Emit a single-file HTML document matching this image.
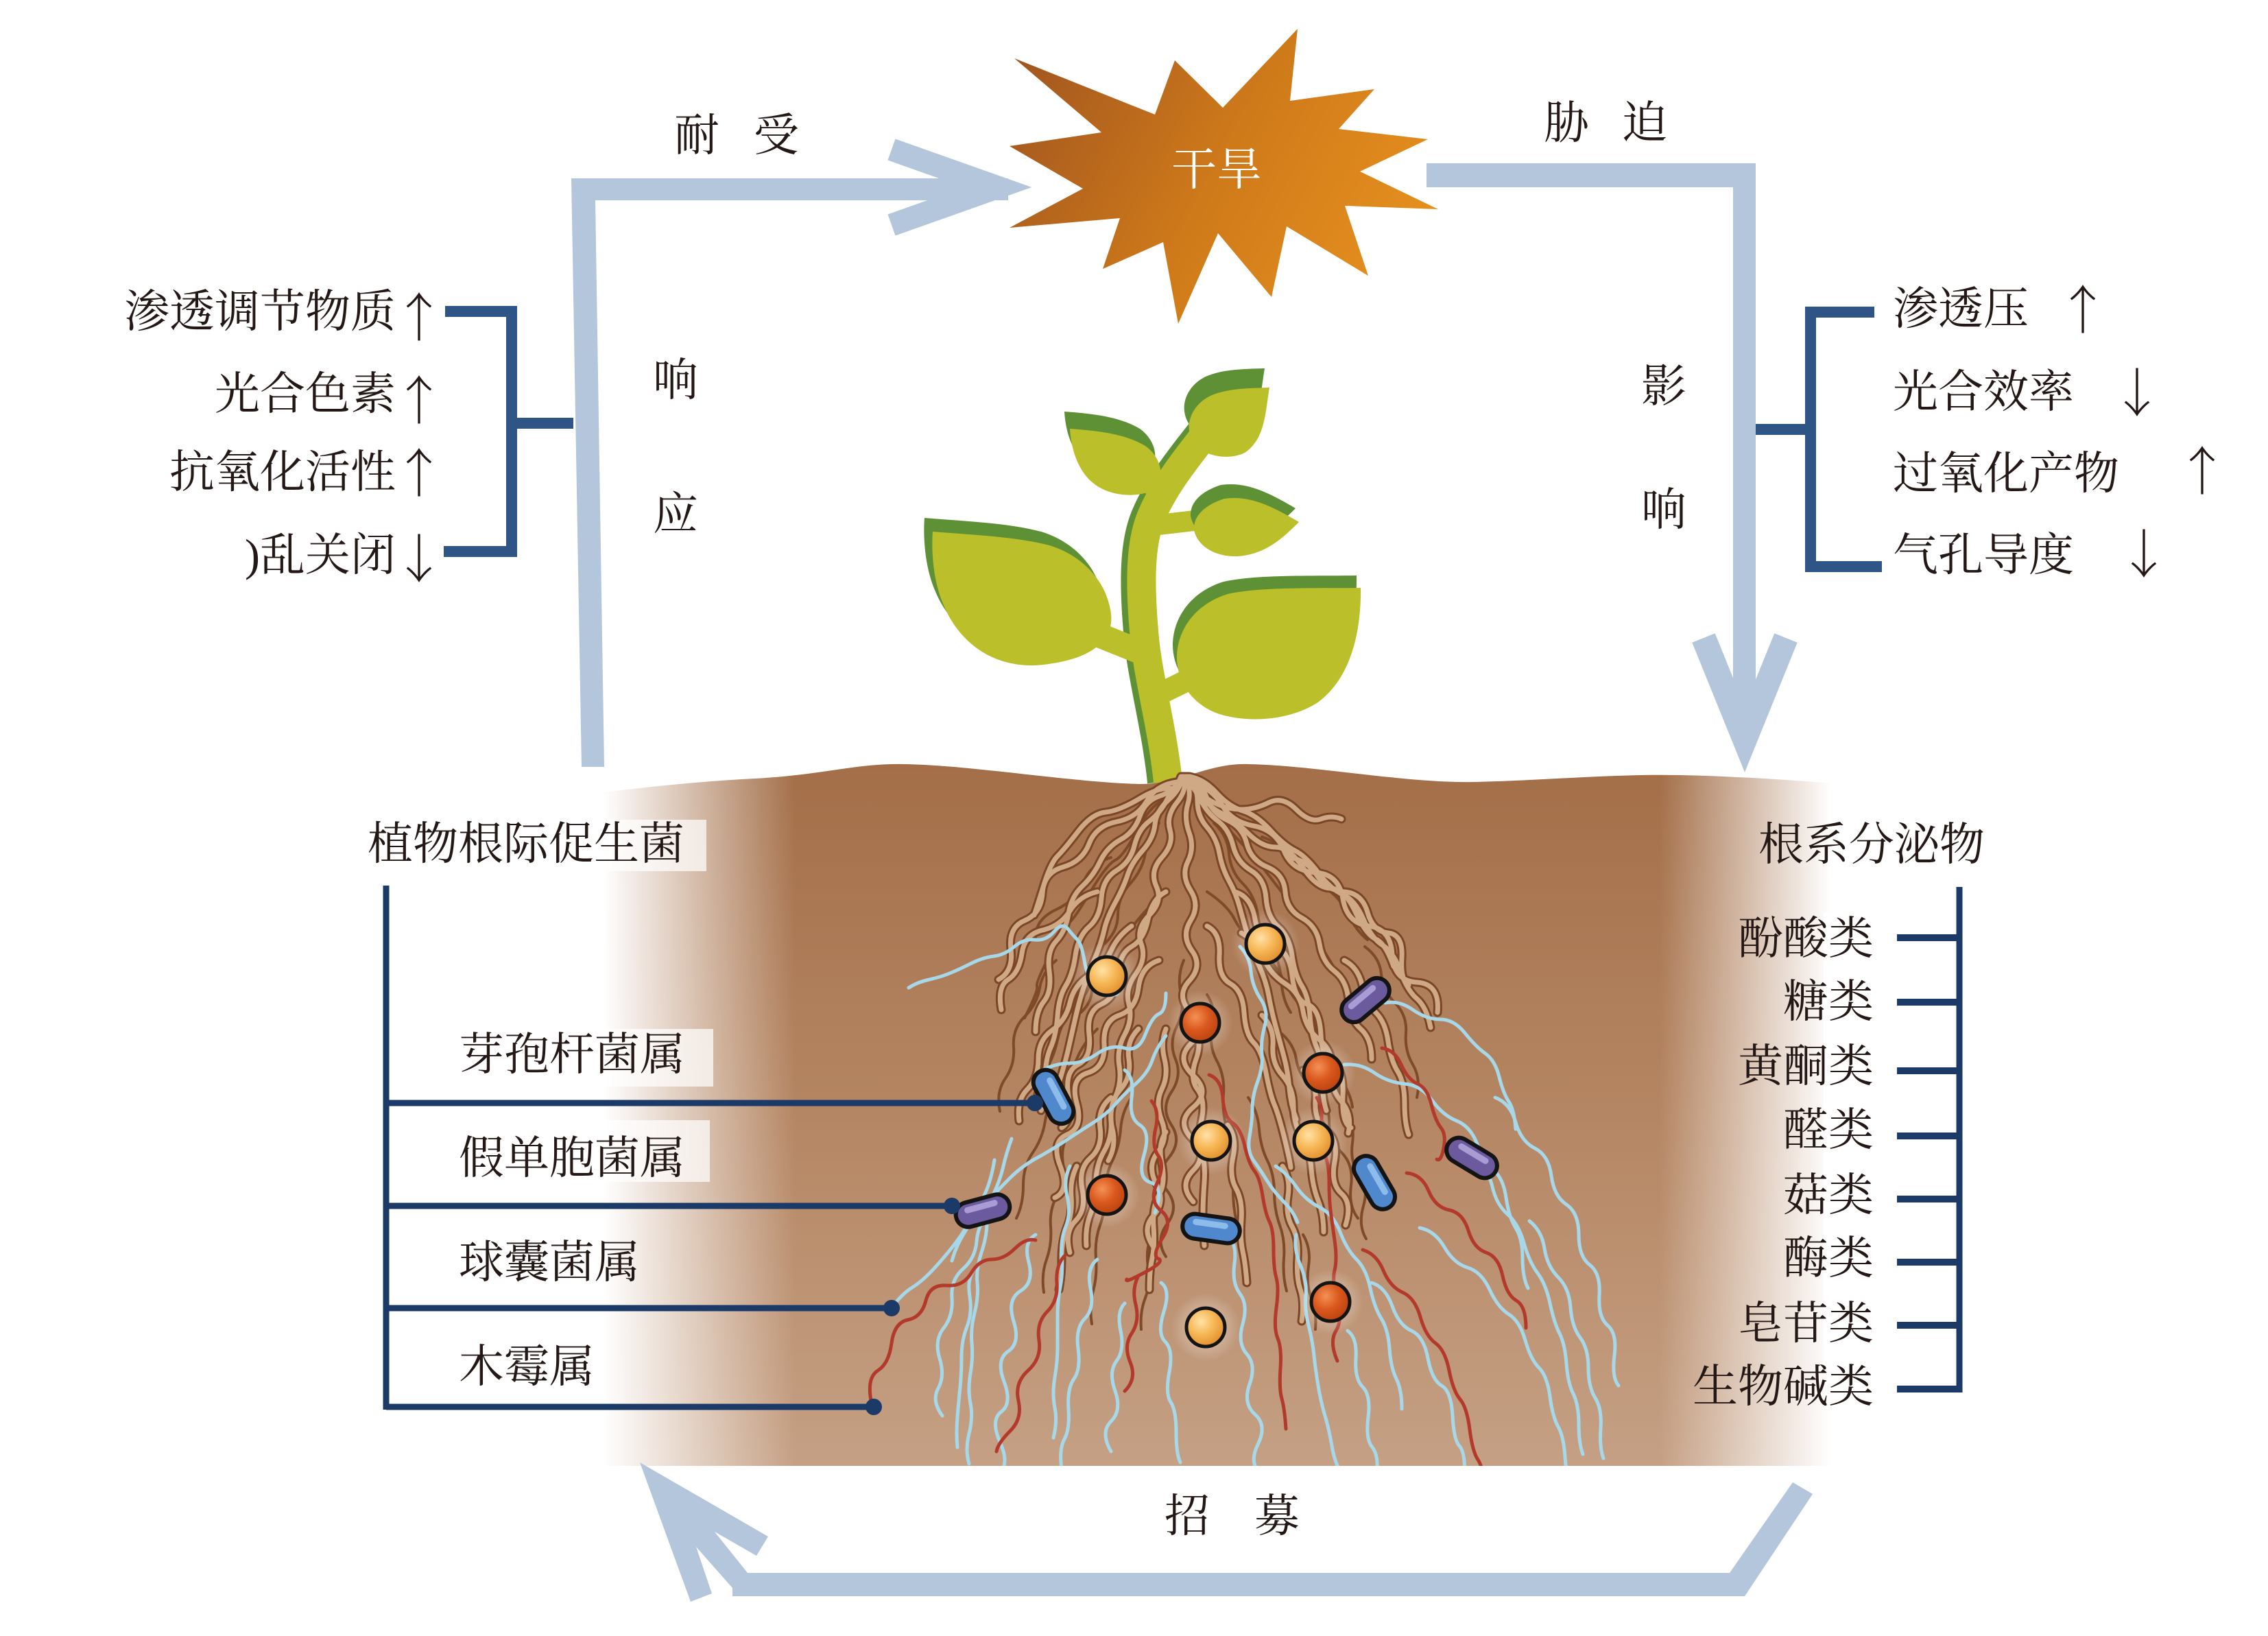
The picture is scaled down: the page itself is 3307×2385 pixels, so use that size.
<!DOCTYPE html>
<html><head><meta charset="utf-8">
<style>html,body{margin:0;padding:0;background:#fff}svg{display:block}
.t{font-family:"Liberation Serif","Noto Serif CJK SC",serif;fill:#231815;font-size:66px}
.a{font-family:"Noto Serif CJK SC","Liberation Serif",serif;fill:#231815;font-size:76px}
</style></head><body>
<svg width="3307" height="2385" viewBox="0 0 3307 2385" xmlns="http://www.w3.org/2000/svg">
<defs>
<linearGradient id="sunG" gradientUnits="userSpaceOnUse" x1="1480" y1="90" x2="2080" y2="410"><stop offset="0" stop-color="#a2561f"/><stop offset="0.5" stop-color="#cf7a1a"/><stop offset="1" stop-color="#e8921f"/></linearGradient>
<linearGradient id="soilG" gradientUnits="userSpaceOnUse" x1="0" y1="1110" x2="0" y2="2137"><stop offset="0" stop-color="#a36e48"/><stop offset="0.5" stop-color="#b58663"/><stop offset="1" stop-color="#c5a084"/></linearGradient>
<linearGradient id="fadeL" gradientUnits="userSpaceOnUse" x1="880" y1="0" x2="1160" y2="0"><stop offset="0" stop-color="#fff" stop-opacity="1"/><stop offset="0.45" stop-color="#fff" stop-opacity="0.55"/><stop offset="1" stop-color="#fff" stop-opacity="0"/></linearGradient>
<linearGradient id="fadeR" gradientUnits="userSpaceOnUse" x1="2420" y1="0" x2="2670" y2="0"><stop offset="0" stop-color="#fff" stop-opacity="0"/><stop offset="1" stop-color="#fff" stop-opacity="1"/></linearGradient>
<radialGradient id="yel" cx="0.38" cy="0.35" r="0.7"><stop offset="0" stop-color="#ffe2a6"/><stop offset="0.5" stop-color="#f6b655"/><stop offset="1" stop-color="#e08c2a"/></radialGradient>
<radialGradient id="org" cx="0.38" cy="0.35" r="0.7"><stop offset="0" stop-color="#f39156"/><stop offset="0.5" stop-color="#da581d"/><stop offset="1" stop-color="#b8410f"/></radialGradient>
<radialGradient id="glow"><stop offset="0" stop-color="#fff" stop-opacity="0.55"/><stop offset="1" stop-color="#fff" stop-opacity="0"/></radialGradient>
<clipPath id="rc"><rect x="1150" y="1100" width="1400" height="1037"/></clipPath>
<g id="tan" fill="none">
<path d="M1722 1132 q-8 21 -30 28 t-30 30 t-28 34 t-30 32 t-26 36 t-20 40 t-18 40 t-10 44 t-8 44 t-12 44"/>
<path d="M1724 1132 q-2 18 -20 34 t-20 36 t-18 38 t-22 36 t-18 40 t-16 40 t-14 42 t-16 42 t-12 44 t-10 44 t-12 44 t-10 46"/>
<path d="M1726 1132 q6 18 -10 38 t-10 40 t-12 40 t-8 42 t-10 42 t-12 42 t-8 44 t-10 44 t-6 44 t-8 46 t-6 46 t-4 46 t-6 46"/>
<path d="M1728 1132 q10 20 4 40 t2 42 t-2 42 t4 42 t0 44 t2 44 t-4 44 t2 46 t0 46 t4 46 t0 46 t-2 46 t2 46 t0 46"/>
<path d="M1730 1132 q16 14 16 36 t14 38 t18 38 t14 40 t16 40 t12 42 t16 42 t14 44 t10 44 t12 44 t8 46 t10 46"/>
<path d="M1732 1132 q20 10 28 32 t30 32 t28 34 t30 34 t26 36 t24 38 t26 38 t22 40 t20 42 t18 42 t16 44"/>
<path d="M1734 1132 q22 4 40 24 t38 26 t40 28 t36 30 t34 32 t36 32 t30 36 t28 38 t26 38 t24 40 t20 42"/>
<path d="M1740 1140 q10 20 30 30 t40 10 t40 -10 t40 10 t36 14 t30 0"/>
<path d="M1745 1150 q15 25 35 35 t40 30 t40 20 t40 30 t40 30 t36 34 t30 40 t26 40"/>
<path d="M1738 1140 q30 10 44 34 t46 30 t44 36 t46 32 t40 38 t38 40 t34 42 t36 40 t30 44"/>
<path d="M1716 1140 q-30 4 -44 28 t-44 30 t-40 32 t-38 34 t-30 38 t-26 40 t-20 42 t-18 44"/>
<path d="M1712 1150 q-20 -4 -50 14 t-50 20 t-40 28 t-30 36 t-20 42 t-14 44"/>
<path d="M1700 1300 q-20 10 -26 40 t-24 40 t-20 42 t-24 42 t-18 44 t-16 44 t-14 46 t-10 46"/>
<path d="M1690 1400 q-26 8 -30 40 t-28 40 t-22 42 t-24 42 t-16 44 t-14 46 t-10 46 t-8 46"/>
<path d="M1760 1350 q20 10 18 42 t16 42 t20 42 t14 44 t18 44 t12 46 t14 46 t10 46"/>
<path d="M1800 1300 q24 6 30 40 t28 40 t26 42 t22 42 t20 44 t18 44 t14 46 t12 46"/>
<path d="M1740 1500 q14 16 4 44 t2 44 t6 44 t0 46 t4 46 t-2 46 t2 46"/>
<path d="M1660 1500 q-18 18 -14 44 t-12 44 t-14 44 t-10 46 t-12 46 t-8 46 t-6 46"/>
<path d="M1840 1480 q18 18 16 44 t14 44 t16 44 t12 46 t14 46 t10 46 t8 46"/>
<path d="M1620 1600 q-20 16 -16 44 t-14 44 t-12 46 t-10 46 t-8 46"/>
<path d="M1900 1560 q20 14 18 44 t16 44 t12 46 t10 46 t6 46"/>
<path d="M1700 1650 q-12 18 -6 46 t-4 46 t-8 46 t-2 46 t-4 46"/>
<path d="M1790 1640 q14 18 8 46 t4 46 t8 46 t2 46 t6 46"/>
<path d="M1726 1135 q-14 10 -24 30 t-26 32 t-22 36 t-26 36 t-22 40 t-18 42 t-20 42 t-14 44 t-12 44 t-10 46 t-8 46 t-6 46"/>
<path d="M1726 1135 q14 10 24 30 t26 32 t22 36 t26 36 t22 40 t18 42 t20 42 t14 44 t12 44 t10 46 t8 46 t6 46"/>
<path d="M1650 1350 q-20 14 -30 36 t-32 36 t-28 40 t-26 40 t-20 42 t-16 44 t-12 46"/>
<path d="M1810 1360 q22 12 32 36 t32 38 t26 40 t24 42 t18 44 t14 46 t10 46"/>
<path d="M1880 1250 q26 4 40 26 t40 24 t34 30 t30 30 t20 36 t10 40"/>
<path d="M1600 1300 q-26 6 -40 28 t-40 28 t-30 34 t-20 38 t-10 44"/>
<path d="M1700 1500 q-8 20 -2 44 t-4 44 t0 46 t-6 46 t-2 46 t-4 46 t0 46"/>
<path d="M1870 1700 q12 18 8 44 t6 44 t8 46 t4 46 t2 46"/>
<path d="M1570 1700 q-10 20 -8 44 t-6 44 t-8 46 t-4 46"/>
<path d="M1960 1400 q20 10 26 36 t20 40 t18 42 t14 44 t10 46 t6 46"/>
</g>
</defs>

<rect width="3307" height="2385" fill="#fff"/>

<!-- sun -->
<polygon fill="url(#sunG)" points="1479,85 1684,167 1713,88 1783,157 1892,42 1881,147 2004,130 1952,188 2082,203 1983,250 2097,305 1961,300 1995,402 1876,330 1854,433 1776,340 1718,472 1696,353 1608,392 1633,318 1472,332 1579,275 1472,213 1606,193"/>
<text class="t" x="1774" y="248" text-anchor="middle" dominant-baseline="central" style="fill:#fff">干旱</text>

<!-- plant -->
<g>
<path d="M1695 1140 C1687 1060,1664 980,1660 920 C1654 850,1654 790,1672 750 C1687 715,1712 680,1752 630" fill="none" stroke="#5e9136" stroke-width="44"/>
<path d="M1703 1140 C1695 1060,1672 980,1668 920 C1662 850,1662 790,1680 750 C1695 715,1720 680,1760 630" fill="none" stroke="#bbbf29" stroke-width="42"/>
<path d="M1662 950 L1600 925" stroke="#bbbf29" stroke-width="36"/>
<path d="M1690 1012 L1745 985" stroke="#bbbf29" stroke-width="32"/>
<path d="M1690 765 L1750 758" stroke="#bbbf29" stroke-width="30"/>
<path d="M1690 715 L1650 690" stroke="#bbbf29" stroke-width="28"/>
<g transform="translate(-12,-20)"><path fill="#5e9136" d="M1360 775 C1420 780,1480 782,1530 795 C1580 810,1615 850,1620 895 C1625 940,1580 965,1510 970 C1440 972,1395 930,1375 880 C1360 845,1358 800,1360 775 Z"/></g>
<path fill="#bbbf29" d="M1360 775 C1420 780,1480 782,1530 795 C1580 810,1615 850,1620 895 C1625 940,1580 965,1510 970 C1440 972,1395 930,1375 880 C1360 845,1358 800,1360 775 Z"/>
<g transform="translate(-6,-18)"><path fill="#5e9136" d="M1984 857 C1985 920,1970 990,1920 1025 C1880 1050,1820 1055,1775 1040 C1735 1025,1715 990,1716 955 C1718 915,1745 880,1790 866 C1840 855,1920 858,1984 857 Z"/></g>
<path fill="#bbbf29" d="M1984 857 C1985 920,1970 990,1920 1025 C1880 1050,1820 1055,1775 1040 C1735 1025,1715 990,1716 955 C1718 915,1745 880,1790 866 C1840 855,1920 858,1984 857 Z"/>
<g transform="translate(-5,-20)"><path fill="#5e9136" d="M1894 761 C1870 785,1845 808,1805 811 C1770 812,1745 795,1741 772 C1740 750,1760 735,1785 727 C1820 722,1850 735,1894 761 Z"/></g>
<path fill="#bbbf29" d="M1894 761 C1870 785,1845 808,1805 811 C1770 812,1745 795,1741 772 C1740 750,1760 735,1785 727 C1820 722,1850 735,1894 761 Z"/>
<g transform="translate(-8,-25)"><path fill="#5e9136" d="M1560 625 C1600 628,1640 632,1670 650 C1695 668,1700 700,1680 715 C1660 725,1620 725,1595 705 C1575 690,1562 660,1560 625 Z"/></g>
<path fill="#bbbf29" d="M1560 625 C1600 628,1640 632,1670 650 C1695 668,1700 700,1680 715 C1660 725,1620 725,1595 705 C1575 690,1562 660,1560 625 Z"/>
<g transform="translate(-7,-28)"><path fill="#5e9136" d="M1851 565 C1845 600,1845 640,1815 660 C1790 672,1755 665,1740 645 C1725 620,1738 590,1765 577 C1790 566,1820 566,1851 565 Z"/></g>
<path fill="#bbbf29" d="M1851 565 C1845 600,1845 640,1815 660 C1790 672,1755 665,1740 645 C1725 620,1738 590,1765 577 C1790 566,1820 566,1851 565 Z"/>
</g>

<!-- soil -->
<path fill="url(#soilG)" d="M760 1170 C900 1152,1000 1140,1100 1135 C1200 1130,1250 1112,1320 1114 C1420 1116,1560 1140,1660 1143 C1720 1144,1760 1112,1820 1114 C1920 1116,2050 1142,2150 1140 C2250 1138,2350 1128,2450 1130 C2550 1132,2650 1140,2780 1150 L2780 2137 L760 2137 Z"/>
<rect x="700" y="1100" width="460" height="1040" fill="url(#fadeL)"/>
<rect x="2420" y="1100" width="380" height="1040" fill="url(#fadeR)"/>
<rect x="480" y="1195" width="550" height="75" fill="#fff" opacity="0.7"/>
<rect x="640" y="1500" width="400" height="84" fill="#fff" opacity="0.7"/>
<rect x="640" y="1633" width="395" height="90" fill="#fff" opacity="0.7"/>
<rect x="2659" y="1330" width="100" height="720" fill="#fff"/>

<!-- roots -->
<g clip-path="url(#rc)" stroke-linecap="round" fill="none">
<g stroke="#7e4a28" stroke-width="4">
<path d="M1726 1130 q-20 30 -36 40 t-34 44 t-30 40 t-36 46 t-30 44 t-28 46 t-20 48 t-18 46"/>
<path d="M1726 1130 q30 26 36 40 t34 44 t38 42 t36 46 t34 44 t30 46 t28 46 t24 48"/>
<path d="M1700 1300 q-24 20 -40 40 t-36 40 t-30 46 t-28 44 t-24 46 t-20 48 t-16 48"/>
<path d="M1760 1300 q30 20 40 40 t36 44 t34 42 t30 46 t28 46 t24 48 t20 48"/>
<path d="M1600 1500 q-20 20 -30 44 t-26 44 t-20 46 t-18 46 t-14 48 t-10 48"/>
<path d="M1860 1500 q26 18 30 44 t26 44 t22 46 t18 46 t14 48 t10 48"/>
<path d="M1650 1600 q-14 20 -16 46 t-12 46 t-10 46 t-8 48 t-6 48 t-4 48 t-2 48"/>
<path d="M1820 1600 q14 20 16 46 t12 46 t10 46 t8 48 t6 48 t4 48"/>
<path d="M1726 1400 q-10 24 -4 48 t-6 48 t-2 48 t-6 48 t0 48 t-4 48 t-2 48 t0 48 t-2 48"/>
<path d="M1760 1450 q14 22 8 48 t6 48 t10 48 t4 48 t8 48 t2 48 t6 48"/>
<path d="M1560 1650 q-14 20 -10 46 t-8 46 t-10 46 t-6 48 t-4 48"/>
<path d="M1960 1620 q16 18 12 46 t10 46 t6 46 t4 48"/>
<path d="M1680 1800 q-10 20 -6 46 t-4 46 t-6 46"/>
<path d="M1900 1800 q12 20 8 46 t4 46 t6 46"/>
<path d="M1620 1250 q-30 10 -40 36 t-40 40 t-30 40"/>
<path d="M1840 1220 q30 10 44 34 t40 36 t40 40 t30 40"/>
<path d="M1690 1200 q-16 20 -20 44 t-22 44 t-18 46 t-24 46 t-16 48 t-14 48"/>
<path d="M1770 1200 q20 18 22 44 t20 44 t22 46 t18 46 t16 48 t14 48"/>
<path d="M1540 1400 q-20 16 -24 40 t-22 42 t-16 44 t-12 46 t-8 48"/>
<path d="M1990 1380 q22 16 24 40 t20 42 t16 44 t10 46 t6 48"/>
</g>
<use href="#tan" stroke="#7a4626" stroke-width="13"/>
<use href="#tan" stroke="#cfa886" stroke-width="7"/>
<g stroke="#a6d8ea" stroke-width="5">
<path d="M1325 1440 q12 -8 30 -12 t32 -10 t30 -14 t32 -10 t30 -14 t30 -10 t28 -12 t20 -4 t14 16 t10 30 t12 26 t20 16 t18 4"/>
<path d="M1808 1380 q14 14 16 36 t14 40 t6 40 t-4 40 t-6 40 t-8 40 t-4 40 t6 36 t20 30 t24 30 t20 30"/>
<path d="M1890 1800 q-4 20 6 44 t8 44 t4 44 t8 44 t6 44 t10 44 t10 44 t14 40"/>
<path d="M2020 1462 q20 -4 40 10 t40 14 t36 20 t30 30 t20 34 t14 36 t10 40"/>
<path d="M1960 1552 q24 -2 44 12 t44 16 t40 24 t36 30 t30 34 t24 38 t18 40 t14 44 t10 44 t8 44"/>
<path d="M2070 1790 q22 4 36 28 t34 30 t32 32 t28 36 t24 38 t20 40 t16 42 t12 44 t10 44 t8 44 t6 44"/>
<path d="M2000 1870 q20 6 30 34 t28 36 t24 40 t20 40 t16 44 t10 44 t8 44"/>
<path d="M1965 1940 q14 10 12 40 t10 42 t8 44 t6 44 t6 44"/>
<path d="M1790 1800 q14 14 10 42 t8 44 t4 44 t6 44 t4 44 t8 44 t4 44 t6 44"/>
<path d="M1693 1870 q14 10 4 42 t2 44 t6 44 t2 44 t8 44 t6 44"/>
<path d="M1600 1836 q-16 12 -10 42 t-8 44 t-10 44 t-6 44 t-8 44 t-6 44 t-4 44"/>
<path d="M1475 1660 q-8 22 -12 40 t-14 40 t-10 42 t-8 44 t-6 44 t-4 44 t-4 44 t-2 44 t0 44 t-2 44 t0 44"/>
<path d="M1510 1800 q-18 10 -10 40 t-12 42 t-10 44 t-8 44 t-6 44 t-4 44 t-2 44 t0 44"/>
<path d="M1700 1510 q-14 18 -20 36 t-24 34 t-30 30 t-34 28 t-40 26 t-40 24 t-40 30 t-34 36 t-30 40 t-20 44"/>
<path d="M1440 1770 q-14 16 -16 40 t-20 40 t-16 42 t-12 44 t-6 44 t-2 44 t6 40"/>
<path d="M1300 1907 q14 -20 30 -30 t34 -30 t30 -36 t26 -40 t20 -40 t10 -40"/>
<path d="M1520 1560 q20 -10 40 -10 t40 -14 t40 -8 t30 -20 t20 -30 t10 -30"/>
<path d="M1860 1700 q16 10 30 30 t34 30 t30 36 t24 40 t20 42 t16 44 t12 44 t10 44 t8 44"/>
<path d="M2150 1690 q20 14 26 40 t22 40 t24 42 t20 44 t18 44 t14 44 t10 44 t10 44 t8 44 t6 44"/>
<path d="M1560 1700 q-10 20 -4 44 t-2 44 t-6 44 t-2 44 t-4 44 t0 44 t-4 44 t0 44 t-2 44"/>
<path d="M1640 1560 q14 10 10 40 t12 40 t6 44 t10 40 t6 44"/>
<path d="M2230 1780 q18 14 22 40 t20 42 t18 44 t14 44 t12 44 t10 44 t8 44 t4 44"/>
<path d="M2180 1600 q22 8 30 36 t28 38 t24 40 t22 42 t18 44 t16 44 t14 44 t12 44 t10 44 t6 44"/>
<path d="M1420 1850 q-10 16 -6 40 t-4 44 t-8 44 t-2 44 t-4 44 t0 44"/>
<path d="M1640 1900 q-12 12 -6 40 t-6 44 t-2 44 t-6 44 t0 44"/>
</g>
<g stroke="#b3392a" stroke-width="5">
<path d="M1679 1605 q12 14 6 40 t4 40 t-2 40 t6 40 t2 40 t-6 30 t-20 20 t-26 10"/>
<path d="M1763 1567 q18 6 20 34 t14 36 t18 34 t14 36 t12 36 t10 38 t6 40 t4 42 t0 44 t2 44 t4 44 t2 44 t6 44"/>
<path d="M2015 1528 q18 2 28 24 t24 28 t20 30 t14 34 t4 30 t-10 16"/>
<path d="M2051 1710 q22 2 32 26 t30 28 t28 30 t26 32 t24 34 t20 36 t14 40"/>
<path d="M1987 1822 q20 6 30 30 t28 32 t26 36 t22 38 t20 40 t16 42 t14 44 t12 44 t10 44 t6 44"/>
<path d="M1510 1808 q-14 -4 -30 12 t-34 16 t-30 20 t-36 18 t-30 22 t-26 28 t-24 34 t-20 40 t-10 44"/>
<path d="M1553 1830 q-14 14 -12 40 t-14 42 t-12 42 t-16 44 t-14 44 t-12 44 t-20 30"/>
<path d="M1920 1600 q10 16 6 40 t4 40 t8 42 t2 42 t6 44 t0 44 t4 44 t-2 44 t2 44"/>
<path d="M1660 1860 q-10 18 -4 42 t-6 42 t-2 42 t-8 42"/>
</g>
</g>

<!-- bacteria -->
<g stroke="#141414">
<g transform="translate(1614,1423)"><circle r="50" fill="url(#glow)" stroke="none"/><circle r="28" fill="url(#yel)" stroke-width="5"/></g>
<g transform="translate(1845,1376)"><circle r="50" fill="url(#glow)" stroke="none"/><circle r="28" fill="url(#yel)" stroke-width="5"/></g>
<g transform="translate(1766,1663)"><circle r="50" fill="url(#glow)" stroke="none"/><circle r="28" fill="url(#yel)" stroke-width="5"/></g>
<g transform="translate(1915,1663)"><circle r="50" fill="url(#glow)" stroke="none"/><circle r="28" fill="url(#yel)" stroke-width="5"/></g>
<g transform="translate(1758,1935)"><circle r="50" fill="url(#glow)" stroke="none"/><circle r="28" fill="url(#yel)" stroke-width="5"/></g>
<g transform="translate(1750,1491)"><circle r="48" fill="url(#glow)" stroke="none"/><circle r="28" fill="url(#org)" stroke-width="5"/></g>
<g transform="translate(1929,1564)"><circle r="48" fill="url(#glow)" stroke="none"/><circle r="28" fill="url(#org)" stroke-width="5"/></g>
<g transform="translate(1614,1742)"><circle r="48" fill="url(#glow)" stroke="none"/><circle r="28" fill="url(#org)" stroke-width="5"/></g>
<g transform="translate(1940,1898)"><circle r="48" fill="url(#glow)" stroke="none"/><circle r="28" fill="url(#org)" stroke-width="5"/></g>
<g transform="translate(1536,1599) rotate(62)"><rect x="-42" y="-18" width="84" height="36" rx="18" fill="#4f88cc" stroke-width="6"/><rect x="-28" y="-11" width="52" height="9" rx="4.5" fill="#8dbbea" stroke="none"/></g>
<g transform="translate(1433,1765) rotate(-15)"><rect x="-40" y="-18" width="80" height="36" rx="18" fill="#6c5a9f" stroke-width="6"/><rect x="-26" y="-11" width="50" height="9" rx="4.5" fill="#a99bd3" stroke="none"/></g>
<g transform="translate(1766,1791) rotate(8)"><rect x="-42" y="-18" width="84" height="36" rx="18" fill="#4f88cc" stroke-width="6"/><rect x="-28" y="-11" width="52" height="9" rx="4.5" fill="#8dbbea" stroke="none"/></g>
<g transform="translate(1991,1458) rotate(-40)"><rect x="-40" y="-18" width="80" height="36" rx="18" fill="#6c5a9f" stroke-width="6"/><rect x="-26" y="-11" width="50" height="9" rx="4.5" fill="#a99bd3" stroke="none"/></g>
<g transform="translate(2004,1724) rotate(60)"><rect x="-42" y="-18" width="84" height="36" rx="18" fill="#4f88cc" stroke-width="6"/><rect x="-28" y="-11" width="52" height="9" rx="4.5" fill="#8dbbea" stroke="none"/></g>
<g transform="translate(2146,1688) rotate(31)"><rect x="-40" y="-18" width="80" height="36" rx="18" fill="#6c5a9f" stroke-width="6"/><rect x="-26" y="-11" width="50" height="9" rx="4.5" fill="#a99bd3" stroke="none"/></g>
</g>

<!-- big light-blue arrows -->
<g fill="#b3c6dc">
<path d="M833 260 H1470 V292 H868 L881 1118 H848 Z"/>
<path d="M2080 238 H2560 V1065 H2527 V273 H2080 Z"/>
<path d="M933 2132 L1120 2240 L1103 2268 L1042 2233 L1090 2293 L2522 2293 L2614 2161 L2643 2178 L2544 2327 L1068 2327 L1068 2315 L1015 2255 L1038 2323 L1007 2335 Z"/>
</g>
<polyline points="1300,218 1455,273 1300,328" fill="none" stroke="#b3c6dc" stroke-width="33" stroke-linejoin="miter" stroke-miterlimit="10"/>
<polyline points="2484,930 2544,1078 2604,930" fill="none" stroke="#b3c6dc" stroke-width="36" stroke-linejoin="miter" stroke-miterlimit="10"/>

<!-- brackets -->
<g fill="none" stroke="#2f5586" stroke-width="16">
<path d="M649 454 H746 V804 H647"/>
<path d="M746 617 H836"/>
<path d="M2733 455 H2640 V826 H2744"/>
<path d="M2560 626 H2640"/>
</g>
<g fill="none" stroke="#1b3a68">
<path d="M563 1291 V2055" stroke-width="9"/>
<path d="M563 1608 H1509 M563 1758 H1388 M563 1907 H1300 M563 2051 H1274" stroke-width="9"/>
<path d="M2857 1293 V2030" stroke-width="9"/>
<path d="M2766 1367 H2857 M2766 1461 H2857 M2766 1561 H2857 M2766 1656 H2857 M2766 1748 H2857 M2766 1840 H2857 M2766 1932 H2857 M2766 2025 H2857" stroke-width="10"/>
</g>
<g fill="#1b3a68"><circle cx="1509" cy="1608" r="12"/><circle cx="1388" cy="1758" r="12"/><circle cx="1300" cy="1907" r="12"/><circle cx="1274" cy="2051" r="12"/></g>

<!-- text -->
<g class="t" dominant-baseline="central">
<text x="1016" y="198" text-anchor="middle">耐</text>
<text x="1132" y="198" text-anchor="middle">受</text>
<text x="2284" y="180" text-anchor="middle">胁</text>
<text x="2398" y="180" text-anchor="middle">迫</text>
<text x="985" y="555" text-anchor="middle">响</text>
<text x="985" y="750" text-anchor="middle">应</text>
<text x="2426" y="564" text-anchor="middle">影</text>
<text x="2426" y="744" text-anchor="middle">响</text>
<text x="577" y="455" text-anchor="end">渗透调节物质</text>
<text x="577" y="575" text-anchor="end">光合色素</text>
<text x="577" y="689" text-anchor="end">抗氧化活性</text>
<text x="577" y="810" text-anchor="end">)乱关闭</text>
<text x="2760" y="451">渗透压</text>
<text x="2760" y="572">光合效率</text>
<text x="2760" y="691">过氧化产物</text>
<text x="2760" y="810">气孔导度</text>
<text x="536" y="1231">植物根际促生菌</text>
<text x="669" y="1538">芽孢杆菌属</text>
<text x="669" y="1689">假单胞菌属</text>
<text x="669" y="1841">球囊菌属</text>
<text x="669" y="1993">木霉属</text>
<text x="2564" y="1232">根系分泌物</text>
<text x="2732" y="1369" text-anchor="end">酚酸类</text>
<text x="2732" y="1461" text-anchor="end">糖类</text>
<text x="2732" y="1555" text-anchor="end">黄酮类</text>
<text x="2732" y="1648" text-anchor="end">醛类</text>
<text x="2732" y="1743" text-anchor="end">菇类</text>
<text x="2732" y="1835" text-anchor="end">酶类</text>
<text x="2732" y="1930" text-anchor="end">皂苷类</text>
<text x="2732" y="2022" text-anchor="end">生物碱类</text>
<text x="1731" y="2211" text-anchor="middle">招</text>
<text x="1862" y="2211" text-anchor="middle">募</text>
</g>
<g class="a" dominant-baseline="central" text-anchor="middle">
<text x="611" y="458">↑</text>
<text x="611" y="579">↑</text>
<text x="611" y="685">↑</text>
<text x="611" y="810">↓</text>
<text x="3037" y="447">↑</text>
<text x="3116" y="568">↓</text>
<text x="3211" y="682">↑</text>
<text x="3126" y="803">↓</text>
</g>
</svg>
</body></html>
